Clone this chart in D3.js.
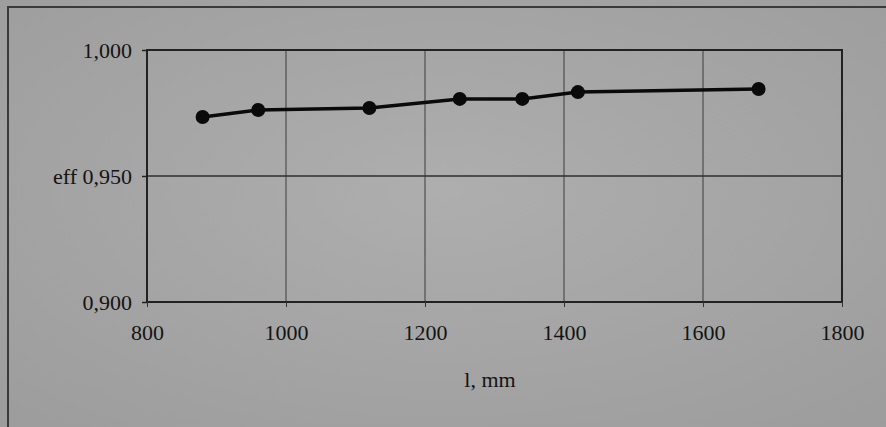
<!DOCTYPE html>
<html>
<head>
<meta charset="utf-8">
<script src="https://cdn.jsdelivr.net/npm/d3@7"></script>
<style>
  html, body { margin: 0; padding: 0; background: #a4a4a4; }
  svg text { font-family: "Liberation Serif", "Times New Roman", serif; fill: #141414; }
</style>
</head>
<body>
<div id="chart"></div>
<script>
// data
var lengths = [880, 960, 1120, 1250, 1340, 1420, 1680];
var effValues = [0.9734, 0.9762, 0.9770, 0.9806, 0.9806, 0.9833, 0.9845];
var xTicks = [800, 1000, 1200, 1400, 1600, 1800];
var yTicks = [0.900, 0.950, 1.000];
var yTickLabels = ["0,900", "eff 0,950", "1,000"];
var xTitle = "l, mm";

var width = 886, height = 427;
var margin = {left: 147, right: 44, top: 50, bottom: 125};

var svg = d3.select("#chart").append("svg")
    .attr("width", width)
    .attr("height", height);

// scan-ish paper background
var defs = svg.append("defs");
var grad = defs.append("radialGradient").attr("id", "paper")
    .attr("cx", "50%").attr("cy", "45%").attr("r", "75%");
grad.append("stop").attr("offset", "0%").attr("stop-color", "#aeaeae");
grad.append("stop").attr("offset", "100%").attr("stop-color", "#9c9c9c");
svg.append("rect").attr("width", width).attr("height", height).attr("fill", "url(#paper)");

// frame of the page
svg.append("path")
    .attr("d", "M8," + height + "V7H" + width)
    .attr("fill", "none")
    .attr("stroke", "#3a3a3a")
    .attr("stroke-width", 2);

var x = d3.scaleLinear().domain([800, 1800]).range([margin.left, width - margin.right]);
var y = d3.scaleLinear().domain([0.9, 1.0]).range([height - margin.bottom, margin.top]);

// grid
svg.append("g").selectAll("line.v")
    .data(xTicks.slice(1, -1)).enter().append("line")
    .attr("x1", function(d){ return x(d); }).attr("x2", function(d){ return x(d); })
    .attr("y1", y(1.0)).attr("y2", y(0.9))
    .attr("stroke", "#3c3c3c").attr("stroke-width", 1);
svg.append("g").selectAll("line.h")
    .data([0.95]).enter().append("line")
    .attr("x1", x(800)).attr("x2", x(1800))
    .attr("y1", function(d){ return y(d); }).attr("y2", function(d){ return y(d); })
    .attr("stroke", "#2e2e2e").attr("stroke-width", 1.3);

// plot frame
svg.append("rect")
    .attr("x", x(800)).attr("y", y(1.0))
    .attr("width", x(1800) - x(800)).attr("height", y(0.9) - y(1.0))
    .attr("fill", "none").attr("stroke", "#222").attr("stroke-width", 2);

// axes
var yAxis = d3.axisLeft(y).tickValues(yTicks).tickSize(5).tickPadding(10)
    .tickFormat(function(d, i){ return yTickLabels[i]; });
var gy = svg.append("g").attr("transform", "translate(" + x(800) + ",0)").call(yAxis);
gy.select(".domain").remove();
gy.selectAll(".tick line").attr("stroke", "#222").attr("stroke-width", 1.5);
gy.selectAll("text").attr("font-size", 22).attr("dy", "0.32em");

var xAxis = d3.axisBottom(x).tickValues(xTicks).tickSize(5).tickPadding(17)
    .tickFormat(d3.format("d"));
var gx = svg.append("g").attr("transform", "translate(0," + y(0.9) + ")").call(xAxis);
gx.select(".domain").remove();
gx.selectAll(".tick line").attr("stroke", "#333").attr("stroke-width", 1);
gx.selectAll("text").attr("font-size", 22);

svg.append("text")
    .attr("x", 490).attr("y", 387)
    .attr("text-anchor", "middle")
    .attr("font-size", 22)
    .text(xTitle);

// series
var points = lengths.map(function(d, i){ return {l: d, eff: effValues[i]}; });
var line = d3.line()
    .x(function(d){ return x(d.l); })
    .y(function(d){ return y(d.eff); });
svg.append("path").datum(points)
    .attr("d", line)
    .attr("fill", "none")
    .attr("stroke", "#0a0a0a")
    .attr("stroke-width", 3.5);
svg.append("g").selectAll("circle").data(points).enter().append("circle")
    .attr("cx", function(d){ return x(d.l); })
    .attr("cy", function(d){ return y(d.eff); })
    .attr("r", 7)
    .attr("fill", "#0a0a0a");
</script>
</body>
</html>
